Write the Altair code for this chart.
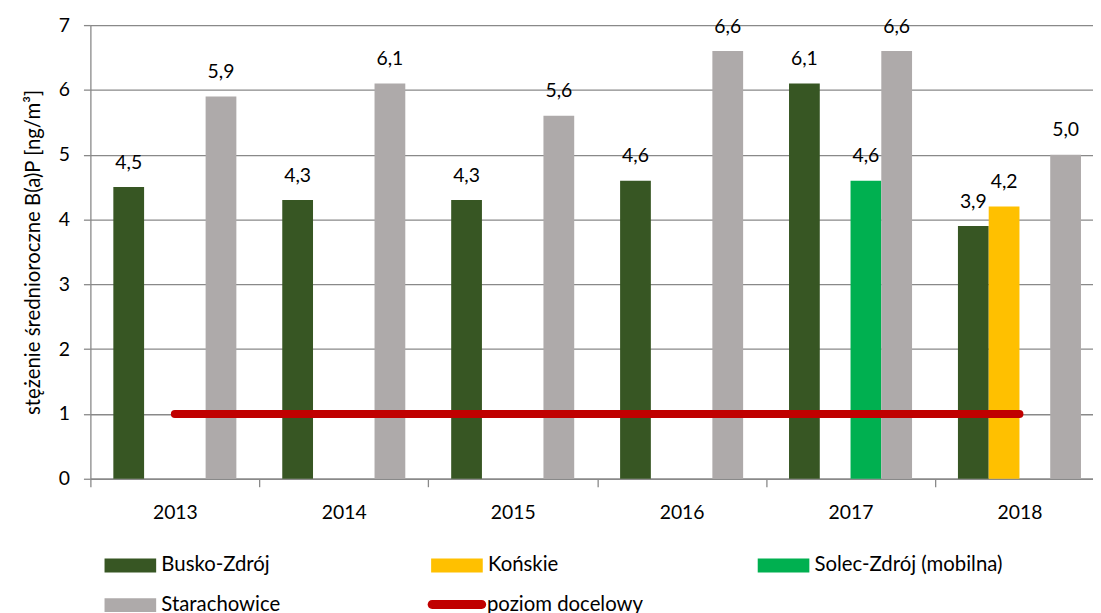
import altair as alt
import pandas as pd

years = ["2013", "2014", "2015", "2016", "2017", "2018"]
series = ["Busko-Zdrój", "Końskie", "Solec-Zdrój (mobilna)", "Starachowice"]
busko = [4.5, 4.3, 4.3, 4.6, 6.1, 3.9]
konskie = [None, None, None, None, None, 4.2]
solec = [None, None, None, None, 4.6, None]
starachowice = [5.9, 6.1, 5.6, 6.6, 6.6, 5.0]
target_label = "poziom docelowy"
target = [1, 1, 1, 1, 1, 1]
bar_colors = ["#375623", "#FFC000", "#00B050", "#AEAAAA"]
line_color = "#C00000"

rows = []
for name, vals in zip(series, [busko, konskie, solec, starachowice]):
    for y, v in zip(years, vals):
        if v is not None:
            rows.append({"rok": y, "seria": name, "wartosc": v})
bars_df = pd.DataFrame(rows)
line_df = pd.DataFrame({"rok": years, "seria": target_label, "wartosc": target})

FONT = "Lato"
rect_path = "M-1,-1H6.43V1H-1Z"
capsule_path = "M0,-1H11.1A1,1 0 0 1 11.1,1H0A1,1 0 0 1 0,-1Z"

bar_legend = alt.Legend(
    title=None, orient="none", legendX=11, legendY=534, columns=3, direction="horizontal",
    gridAlign="all", columnPadding=79, rowPadding=19, symbolSize=196,
    symbolType=rect_path, labelOffset=40, labelFont=FONT, labelFontSize=20.5,
    labelColor="#000000", labelLimit=400, symbolStrokeWidth=0, padding=0,
)
line_legend = alt.Legend(
    title=None, orient="none", legendX=334, legendY=573.5, symbolType=capsule_path,
    symbolSize=81, symbolStrokeWidth=0, symbolFillColor=line_color, labelOffset=45,
    labelFont=FONT, labelFontSize=20.5, labelColor="#000000", labelLimit=400, padding=0,
)

x_enc = alt.X("rok:N", scale=alt.Scale(domain=years, range=[0, 1021], paddingInner=0, paddingOuter=0),
              axis=alt.Axis(title=None, labelAngle=0, tickBand="extent", labelFont=FONT, labelFontSize=19.5,
                            labelColor="#000000", tickSize=8, labelPadding=17, domainColor="#898989",
                            tickColor="#898989", domainWidth=1.3, tickWidth=1.3, grid=False))
y_enc = alt.Y("wartosc:Q", scale=alt.Scale(domain=[0, 7], nice=False),
              axis=alt.Axis(title="stężenie średnioroczne B(a)P [ng/m³]", values=[0, 1, 2, 3, 4, 5, 6, 7],
                            format="d", labelFont=FONT, labelFontSize=19.5, labelColor="#000000",
                            titleFont=FONT, titleFontSize=20.5, titleFontWeight="normal",
                            titleColor="#000000", titlePadding=15, tickSize=7, labelPadding=14,
                            grid=True, gridColor="#898989", gridWidth=1.3, domainColor="#898989",
                            tickColor="#898989", domainWidth=1.3, tickWidth=1.3))
xoff = alt.XOffset("seria:N", scale=alt.Scale(domain=series, paddingInner=0, paddingOuter=0.746))

bars = alt.Chart(bars_df).mark_bar().encode(
    x=x_enc, y=y_enc, xOffset=xoff,
    color=alt.Color("seria:N", sort=series,
                    scale=alt.Scale(domain=series, range=bar_colors), legend=bar_legend))

labels = alt.Chart(bars_df).transform_calculate(
    etykieta="replace(format(datum.wartosc, '.1f'), '.', ',')"
).mark_text(font=FONT, fontSize=19.5, color="#000000", baseline="alphabetic", dy=-18.5).encode(
    x=alt.X("rok:N"), y=alt.Y("wartosc:Q"), xOffset=alt.XOffset("seria:N"), text="etykieta:N")

line = alt.Chart(line_df).mark_line(strokeWidth=8, strokeCap="round").encode(
    x=alt.X("rok:N"), y=alt.Y("wartosc:Q"),
    stroke=alt.Stroke("seria:N", scale=alt.Scale(domain=[target_label], range=[line_color]),
                      legend=line_legend))

chart = alt.layer(bars, line, labels).properties(
    width=1010, height=457,
    autosize=alt.AutoSizeParams(type="none"),
    padding={"left": 83, "top": 15, "right": 0, "bottom": 133},
).configure_view(stroke=None)

chart.save("out.html", embed_options={"renderer": "svg", "actions": False})
